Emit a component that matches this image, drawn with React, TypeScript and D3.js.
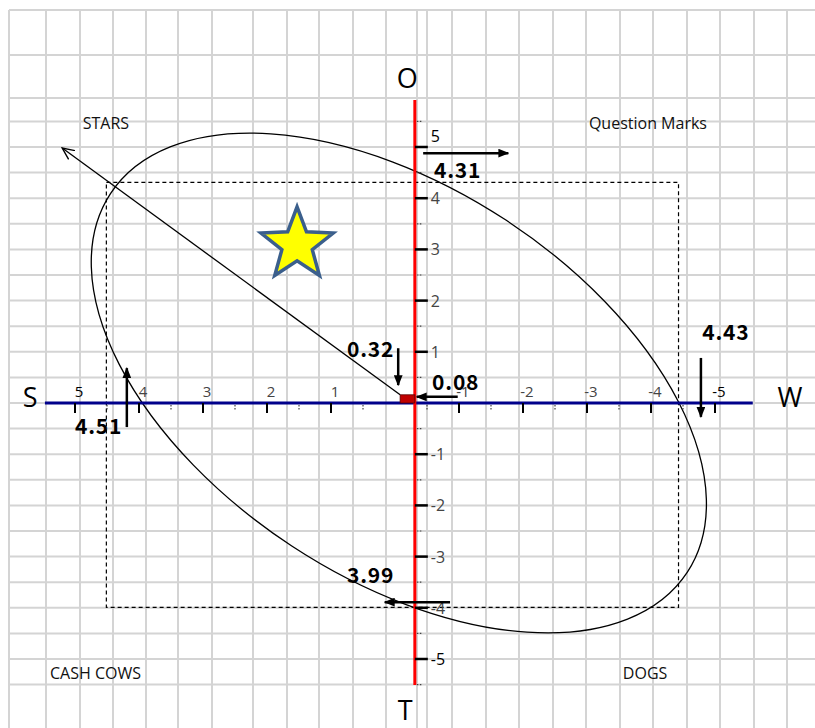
import React from 'react';
import * as d3 from 'd3';

// SPACE matrix values
const factorNames = ['S', 'W', 'O', 'T'];
const factorValues = [4.51, 4.43, 4.31, 3.99];
const vectorX = 0.08;
const vectorY = 0.32;
const axisTicks = [5, 4, 3, 2, 1, -1, -2, -3, -4, -5];
const quadrantNames = ['STARS', 'Question Marks', 'CASH COWS', 'DOGS'];
const quadrantPos = [[4.88, 5.35], [-3.03, 5.35], [5.39, -5.39], [-3.56, -5.39]];

// annotation arrows: [x1, y1, x2, y2] in data units, label at [x, y]
const arrowLines = [
  [-0.44, 4.88, -1.77, 4.88],
  [-4.78, 0.88, -4.78, -0.27],
  [4.19, -0.47, 4.19, 0.68],
  [-0.86, -3.89, 0.16, -3.89],
  [-0.05, 1.07, -0.05, 0.35],
  [-0.98, 0.12, -0.34, 0.12],
];
const arrowLabels = ['4.31', '4.43', '4.51', '3.99', '0.32', '0.08'];
const arrowLabelPos = [[-0.61, 4.39], [-4.8, 1.23], [5.0, -0.61], [0.75, -3.52], [0.75, 0.9], [-0.58, 0.25]];

const axisLetterPos = [[5.7, -0.08], [-6.17, -0.08], [-0.19, 6.15], [-0.16, -6.2]];
const vAxisAt = -0.31;
const starPos = [1.53, 3.09];
const ellipseCenter = [-0.06, 0.39];

const colWidths = [37, 34, 33, 33, 32, 34, 41, 34, 32, 34, 33, 31, 10, 25, 34, 33, 34, 33, 34, 33, 34, 33, 34, 33, 33];
const topRows = [10, 55, 98];

const W = 815;
const H = 728;
const font = '"Noto Sans CJK KR", "Noto Sans", sans-serif';
const wideFont = '"Open Sans", "Noto Sans", sans-serif';

export default function App() {
  const x = d3.scaleLinear().domain([5, -5]).range([75, 715]);
  const y = d3.scaleLinear().domain([5, -5]).range([147, 659]);

  // grid lines like a spreadsheet
  const cols: number[] = [];
  let cx = 9;
  cols.push(cx);
  colWidths.forEach((w) => { cx += w; cols.push(cx); });
  const rows = [...topRows, ...d3.range(5.5, -6, -0.5).map((v) => y(v))];

  const halfTicks = d3.range(-5.5, 5.6, 0.5).filter((v) => Math.abs(v % 1) > 0.1);

  const starPath = (() => {
    const R = 38, r = 16;
    const pts = d3.range(10).map((i) => {
      const a = (i * Math.PI) / 5;
      const rad = i % 2 === 0 ? R : r;
      return [x(starPos[0]) + rad * Math.sin(a), y(starPos[1]) - rad * Math.cos(a)];
    });
    return 'M' + pts.map((p) => p.join(',')).join('L') + 'Z';
  })();

  const vx = x(-0.08);
  const vy = y(0.16);

  return (
    <svg width={W} height={H} style={{ position: 'absolute', left: 0, top: 0, background: '#fff' }}>
      <defs>
        <marker id="head" viewBox="0 0 10 8" refX="9" refY="4" markerWidth="11" markerHeight="9" markerUnits="userSpaceOnUse" orient="auto">
          <path d="M0,0L10,4L0,8Z" fill="#000" />
        </marker>
        <marker id="open" viewBox="0 0 12 12" refX="11" refY="6" markerWidth="13" markerHeight="13" markerUnits="userSpaceOnUse" orient="auto">
          <path d="M0,1L11,6L0,11" fill="none" stroke="#000" strokeWidth="1.3" />
        </marker>
      </defs>

      <g stroke="#d4d4d4" strokeWidth={2}>
        {cols.map((c, i) => <line key={'c' + i} x1={c} x2={c} y1={10} y2={H} />)}
        {rows.map((r, i) => <line key={'r' + i} x1={9} x2={W} y1={r} y2={r} />)}
      </g>

      {/* strength rectangle */}
      <rect
        x={x(factorValues[0])}
        y={y(factorValues[2])}
        width={x(-factorValues[1]) - x(factorValues[0])}
        height={y(-factorValues[3]) - y(factorValues[2])}
        fill="none"
        stroke="#000"
        strokeWidth={1.2}
        strokeDasharray="4,3"
      />

      <ellipse
        cx={x(ellipseCenter[0])}
        cy={y(ellipseCenter[1])}
        rx={345}
        ry={195}
        transform={`rotate(33.3 ${x(ellipseCenter[0])} ${y(ellipseCenter[1])})`}
        fill="none"
        stroke="#000"
        strokeWidth={1.3}
      />

      {/* horizontal axis */}
      <line x1={x(5.47)} x2={x(-5.59)} y1={y(0)} y2={y(0)} stroke="#00008b" strokeWidth={3} />
      {axisTicks.map((v) => (
        <g key={'xt' + v}>
          <line x1={x(v)} x2={x(v)} y1={y(0)} y2={y(0) + 10} stroke="#000" strokeWidth={2} />
          <text x={x(v) + 4} y={y(0) - 6} textAnchor="middle" fontSize={15} fontFamily={wideFont} fill={Math.abs(v) === 5 ? '#000' : '#444'}>{v}</text>
        </g>
      ))}
      {halfTicks.filter((v) => Math.abs(v) < 5.1).map((v) => (
        <line key={'xm' + v} x1={x(v)} x2={x(v)} y1={y(0) + 2} y2={y(0) + 8} stroke="#444" strokeWidth={1.2} strokeDasharray="1.5,1.5" />
      ))}

      {/* vertical axis */}
      <line x1={x(vAxisAt)} x2={x(vAxisAt)} y1={y(5.92)} y2={y(-5.51)} stroke="#ff0000" strokeWidth={3} />
      {axisTicks.map((v) => (
        <g key={'yt' + v}>
          <line x1={x(vAxisAt)} x2={x(vAxisAt) + 13} y1={y(v)} y2={y(v)} stroke="#000" strokeWidth={2.5} />
          <text x={x(vAxisAt) + 16} y={y(v) + (v === 5 ? -5 : 6)} fontSize={16} fontFamily={wideFont} fill={Math.abs(v) === 5 ? '#000' : '#444'}>{v < 0 ? '-' + Math.abs(v) : v}</text>
        </g>
      ))}
      {halfTicks.filter((v) => v > -5.6).map((v) => (
        <line key={'ym' + v} x1={x(vAxisAt) + 2} x2={x(vAxisAt) + 8} y1={y(v)} y2={y(v)} stroke="#444" strokeWidth={1.2} strokeDasharray="1.5,1.5" />
      ))}

      {/* direction vector */}
      <line x1={vx} y1={vy} x2={x(5.2)} y2={y(4.98)} stroke="#000" strokeWidth={1.3} markerEnd="url(#open)" />
      <rect
        x={vx}
        y={vy}
        width={x(vAxisAt) - vx}
        height={y(0) - vy}
        fill="#c00000"
        stroke="#5a0000"
        strokeWidth={0.8}
      />
      <desc>{`vector ${vectorX}, ${vectorY}`}</desc>

      <path d={starPath} fill="#ffff00" stroke="#3b5f8c" strokeWidth={3.5} strokeLinejoin="miter" />

      {arrowLines.map((a, i) => (
        <line key={'a' + i} x1={x(a[0])} y1={y(a[1])} x2={x(a[2])} y2={y(a[3])} stroke="#000" strokeWidth={2.5} markerEnd="url(#head)" />
      ))}
      {arrowLabels.map((t, i) => (
        <text key={'al' + i} x={x(arrowLabelPos[i][0])} y={y(arrowLabelPos[i][1])} fontSize={21} fontWeight="bold" fontFamily={font} letterSpacing={0.8} fill="#000">{t}</text>
      ))}

      {quadrantNames.map((q, i) => (
        <text key={q} x={x(quadrantPos[i][0])} y={y(quadrantPos[i][1])} fontSize={16} fontFamily={wideFont} fill="#111">{q}</text>
      ))}

      {factorNames.map((f, i) => (
        <text key={f} x={x(axisLetterPos[i][0])} y={y(axisLetterPos[i][1])} textAnchor="middle" fontSize={27} fontFamily={wideFont} fill="#000">{f}</text>
      ))}
    </svg>
  );
}
